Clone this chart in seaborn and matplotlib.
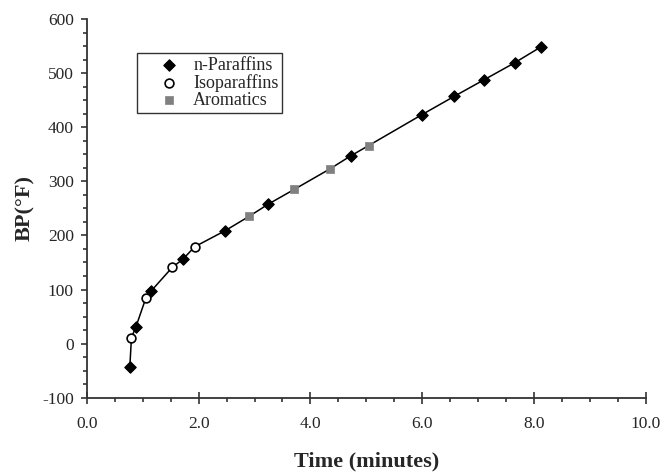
import numpy as np
import pandas as pd
import seaborn as sns
from matplotlib import pyplot as plt
from matplotlib.collections import PathCollection
from matplotlib.legend_handler import HandlerPathCollection
from matplotlib.ticker import MultipleLocator, FormatStrFormatter

# retention time (minutes) and boiling point (F)
para_time = [0.77, 0.88, 1.15, 1.72, 2.48, 3.25, 4.72, 5.99, 6.57, 7.11, 7.65, 8.13]
para_bp = [-44, 31, 97, 156, 209, 258, 347, 423, 457, 488, 519, 549]
iso_time = [0.80, 1.06, 1.53, 1.93]
iso_bp = [11, 85, 141, 179]
arom_time = [2.90, 3.71, 4.35, 5.04]
arom_bp = [235, 285, 323, 366]

groups = ['n-Paraffins', 'Isoparaffins', 'Aromatics']


def build_df():
    df = pd.concat([
        pd.DataFrame({'time': para_time, 'bp': para_bp, 'type': groups[0]}),
        pd.DataFrame({'time': iso_time, 'bp': iso_bp, 'type': groups[1]}),
        pd.DataFrame({'time': arom_time, 'bp': arom_bp, 'type': groups[2]}),
    ], ignore_index=True)
    return df.sort_values('time').reset_index(drop=True)


if __name__ == '__main__':
    sns.set_style('ticks')
    plt.rcParams['font.family'] = ['Liberation Serif', 'DejaVu Serif']
    plt.rcParams['axes.unicode_minus'] = False  # plain hyphen in -100
    df = build_df()

    fig = plt.figure(figsize=(6.64, 4.73), dpi=100)
    ax = fig.add_axes([0.1306, 0.1592, 0.8423, 0.8006])

    sns.lineplot(x='time', y='bp', data=df, sort=True, estimator=None,
                 color='black', lw=1.1, ax=ax, zorder=1)
    styles = {'n-Paraffins': dict(marker='D', s=34, color='black', edgecolor='black', linewidth=0.8),
              'Isoparaffins': dict(marker='o', s=40, color='white', edgecolor='black', linewidth=1.2),
              'Aromatics': dict(marker='s', s=26, color='#808080', edgecolor='#808080', linewidth=0.5)}
    for g in groups:
        sub = df[df['type'] == g]
        sns.scatterplot(x='time', y='bp', data=sub, label=g, ax=ax, zorder=3, **styles[g])

    ax.set_xlim(0, 10)
    ax.set_ylim(-100, 600)
    ax.xaxis.set_major_locator(MultipleLocator(2))
    ax.xaxis.set_minor_locator(MultipleLocator(0.5))
    ax.xaxis.set_major_formatter(FormatStrFormatter('%.1f'))
    ax.yaxis.set_major_locator(MultipleLocator(100))
    ax.yaxis.set_minor_locator(MultipleLocator(25))
    ax.tick_params(axis='x', which='major', direction='inout', length=9, width=1.2, color='#333333',
                   labelsize=12.5, pad=9)
    ax.tick_params(axis='x', which='minor', direction='out', length=3, width=1.2, color='#333333')
    ax.tick_params(axis='y', which='major', direction='out', length=4.3, width=1.2, color='#333333',
                   labelsize=12.5, pad=5)
    ax.tick_params(axis='y', which='minor', direction='out', length=3, width=1.2, color='#333333')
    for s in ['left', 'bottom']:
        ax.spines[s].set_linewidth(1.3)
        ax.spines[s].set_color('#333333')
    sns.despine(ax=ax)

    ax.set_xlabel('Time (minutes)', fontsize=16, fontweight='bold', labelpad=14)
    ax.set_ylabel('BP(\u00b0F)', fontsize=16, fontweight='bold', labelpad=5)

    leg = ax.legend(loc='upper left', bbox_to_anchor=(0.0905, 0.909), borderaxespad=0,
                    fontsize=13, frameon=True, fancybox=False, labelspacing=0.0,
                    handletextpad=0.3, borderpad=0.2, handlelength=2.6,
                    handler_map={PathCollection: HandlerPathCollection(xpad=0.5)})
    leg.get_frame().set_edgecolor('black')
    leg.get_frame().set_linewidth(1.0)

    fig.savefig('out.png', dpi=100)
